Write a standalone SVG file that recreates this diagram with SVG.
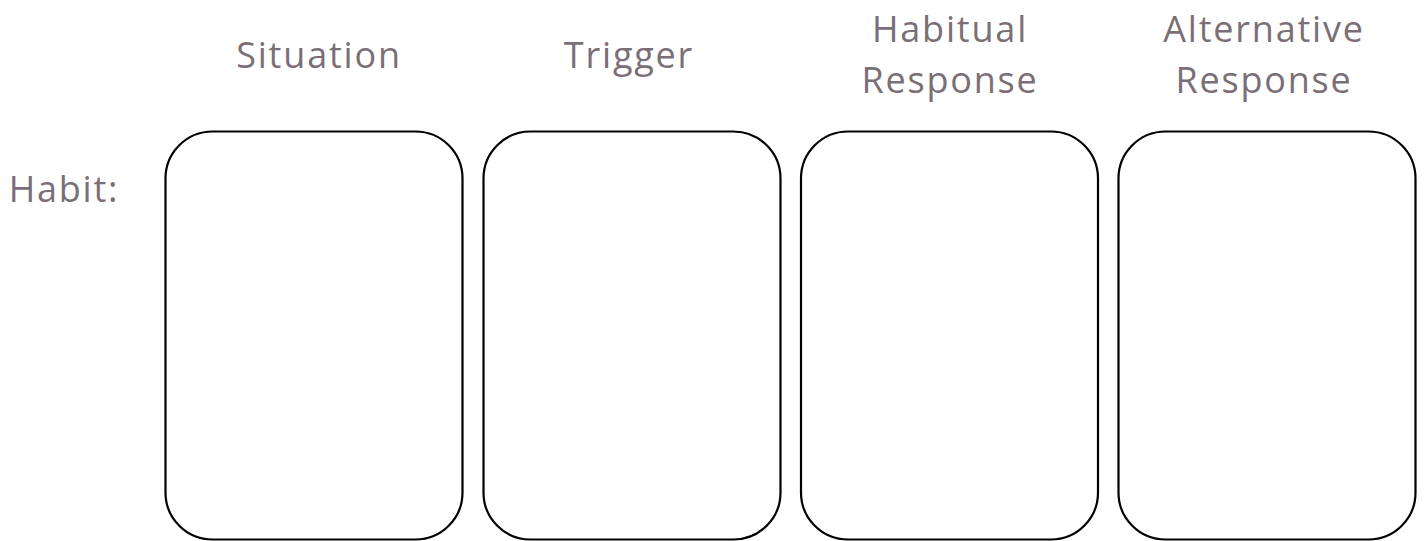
<svg xmlns="http://www.w3.org/2000/svg" width="1425" height="541" viewBox="0 0 1425 541">
<style>
.lbl{font-family:"Open Sans","Liberation Sans",sans-serif;font-size:36px;fill:#7a6f76;text-anchor:middle;letter-spacing:1.8px}
.box{fill:#fff;stroke:#000;stroke-width:2.2}
</style>
<rect width="1425" height="541" fill="#fff"/>
<g id="row-label"><text class="lbl" x="64" y="202">Habit:</text></g>
<g id="header-situation"><text class="lbl" x="319" y="68">Situation</text></g>
<g id="header-trigger"><text class="lbl" x="629" y="68">Trigger</text></g>
<g id="header-habitual"><text class="lbl" x="950" y="42">Habitual</text><text class="lbl" x="950" y="93">Response</text></g>
<g id="header-alternative"><text class="lbl" x="1264" y="42">Alternative</text><text class="lbl" x="1264" y="93">Response</text></g>
<g id="box-situation"><rect class="box" x="165.5" y="131.5" width="297" height="408" rx="47"/></g>
<g id="box-trigger"><rect class="box" x="483.5" y="131.5" width="297" height="408" rx="47"/></g>
<g id="box-habitual"><rect class="box" x="801" y="131.5" width="297" height="408" rx="47"/></g>
<g id="box-alternative"><rect class="box" x="1118.5" y="131.5" width="297" height="408" rx="47"/></g>
<g id="connectors"></g>
</svg>
